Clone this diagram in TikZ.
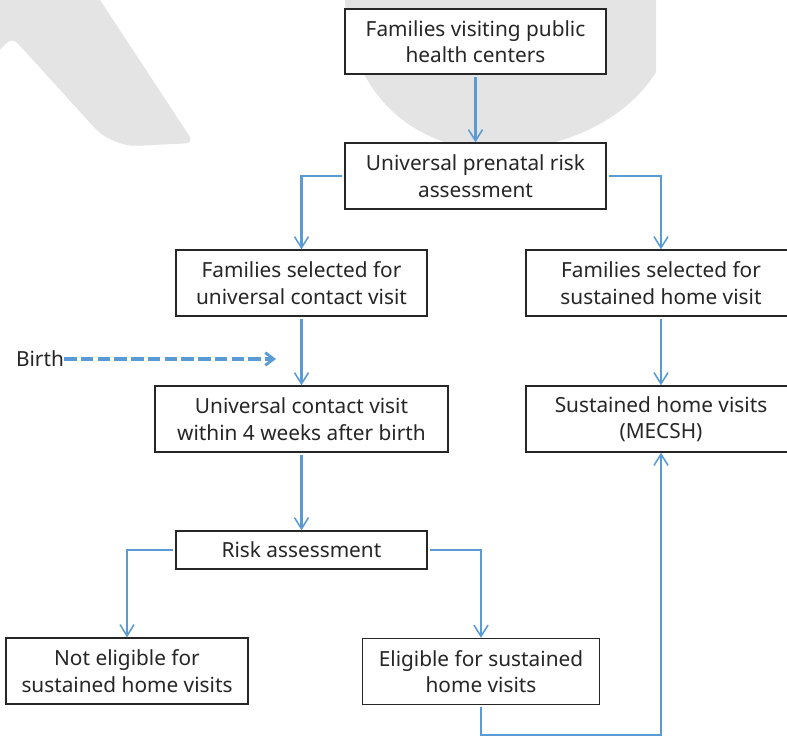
\documentclass[tikz,border=0pt]{standalone}
\usepackage{fontspec}
\setmainfont{Noto Sans}
\usetikzlibrary{arrows.meta, positioning}
\definecolor{linkblue}{RGB}{91,155,213}
\definecolor{markgray}{RGB}{228,228,228}

\begin{document}
\begin{tikzpicture}[x = 0.025cm, y = -0.025cm,
    box/.style = {draw=black!85, fill=white, line width=1pt, align=center,
        inner sep=0pt, minimum height=1.65cm, text=black!85,
        font=\fontsize{14.8}{18.8}\selectfont},
    link/.style = {draw=linkblue, line width=1.7pt, shorten <=1.5pt,
        -{Straight Barb[length=8pt, width=10pt, line width=1.1pt]}},
    birthlink/.style = {draw=linkblue, line width=2.6pt, dash pattern=on 8.9pt off 3pt,
        -{Straight Barb[length=6pt, width=9pt, line width=2pt]}}]

    \useasboundingbox (0,0) rectangle (787,735);

    \fill[markgray] (0,0) -- (100,0) [rounded corners=6] -- (194,143) [rounded corners=18]
        -- (112,147) [rounded corners=6] -- (12,37) [sharp corners] -- (0,50) -- cycle;
    \fill[markgray] (345,0) .. controls (350,100) and (420,150) .. (495,150)
        .. controls (570,150) and (630,115) .. (656,72) -- (656,0) -- cycle;

    \node[box, minimum width=6.525cm, minimum height=1.625cm] (visit) at (475.5,41.5)
        {Families visiting public\\health centers};
    \node[box, minimum width=6.525cm] (prenatal) at (475.5,176)
        {Universal prenatal risk\\assessment};
    \node[box, minimum width=6.275cm] (selcontact) at (301.5,283)
        {Families selected for\\universal contact visit};
    \node[box, minimum width=6.75cm] (selhome) at (661,283)
        {Families selected for\\sustained home visit};
    \node[box, minimum width=7.325cm] (contact) at (301.5,419)
        {Universal contact visit\\within 4 weeks after birth};
    \node[box, minimum width=6.75cm] (sustained) at (661,419)
        {Sustained home visits\\(MECSH)};
    \node[box, minimum width=6.275cm, minimum height=0.95cm] (risk) at (301.5,550)
        {Risk assessment};
    \node[box, minimum width=6.05cm] (noteligible) at (127,671)
        {Not eligible for\\sustained home visits};
    \node[box, minimum width=5.925cm] (eligible) at (481,671.5)
        {Eligible for sustained\\home visits};

    \node[text=black!85, font=\fontsize{14.8}{18.8}\selectfont, inner sep=0pt] (birth) at (40,359) {Birth};
    \coordinate (birthend) at (276,359);

    \draw[link] (visit) -- (prenatal);
    \draw[link] (prenatal.west) -| (selcontact.north);
    \draw[link] (prenatal.east) -| (selhome.north);
    \draw[link] (selcontact) -- (contact);
    \draw[link] (selhome) -- (sustained);
    \draw[link] (contact) -- (risk);
    \draw[link] (risk.west) -| (noteligible.north);
    \draw[link] (risk.east) -| (eligible.north);
    \draw[link] (eligible.south) -- ++(0,30) -| (sustained.south);
    \draw[birthlink] (birth.east) -- (birthend);

\end{tikzpicture}
\end{document}
